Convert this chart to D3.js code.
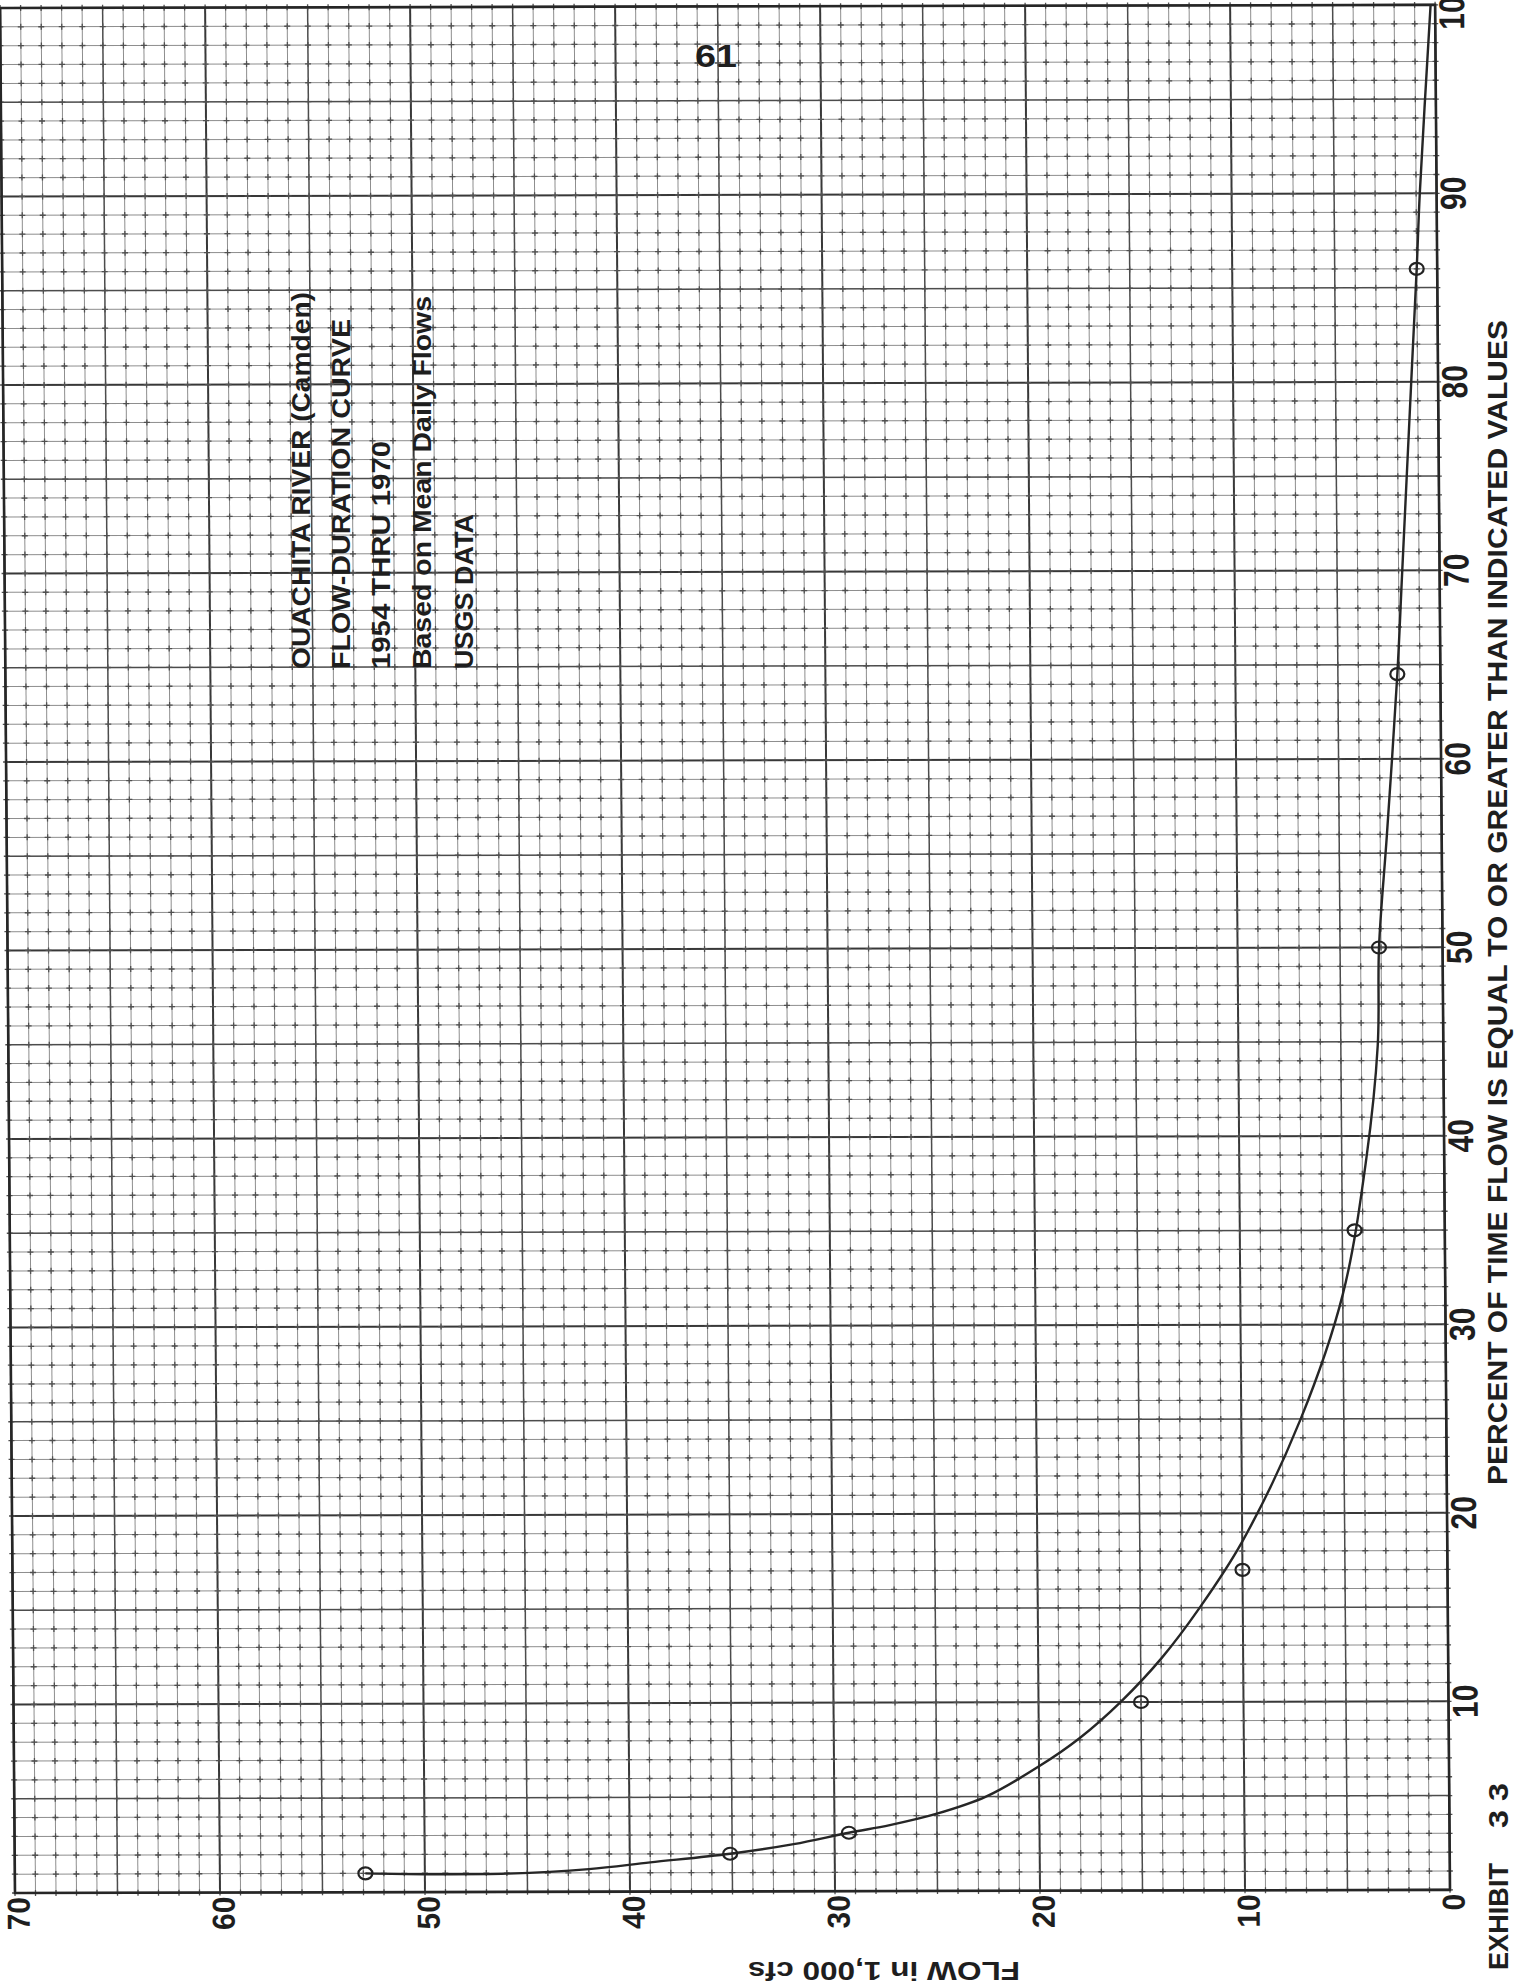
<!DOCTYPE html>
<html>
<head>
<meta charset="utf-8">
<script src="https://cdn.jsdelivr.net/npm/d3@7"></script>
<style>
body { margin: 0; background: #fff; overflow: hidden; }
svg { display: block; }
text { font-family: "Liberation Sans", Arial, Helvetica, sans-serif; font-weight: bold; fill: #1e1e1e; }
</style>
</head>
<body>
<div id="chart"></div>
<script>
// flow axis (1,000 cfs) runs right to left, percent of time runs bottom to top
var flowTicks = [70, 60, 50, 40, 30, 20, 10, 0];
var percentTicks = [10, 20, 30, 40, 50, 60, 70, 80, 90, 100];

// plotted observations
var pointFlow    = [52.9, 35.1, 29.3, 15.0, 10.0, 4.4, 3.1, 2.1, 1.0];
var pointPercent = [1.0, 2.0, 3.1, 10.0, 17.0, 35.0, 50.0, 64.5, 86.0];

// hand drawn duration curve, read along its length
var curveFlow    = [52.9, 50.0, 46.0, 42.0, 39.0, 35.1, 32.0, 29.3, 27.3, 25.0, 22.6, 20.0, 18.0, 16.0, 14.0, 12.1, 10.0, 7.1, 5.0, 3.8, 3.2, 3.1, 2.67, 2.1, 1.82, 1.31, 1.0, 0.82, 0.22];
var curvePercent = [1.0, 0.95, 0.97, 1.2, 1.55, 2.0, 2.5, 3.1, 3.5, 4.1, 5.0, 6.6, 8.1, 10.0, 12.3, 15.0, 18.5, 25.0, 31.6, 38.8, 44.8, 50.0, 56.0, 64.5, 70.0, 80.0, 86.0, 90.0, 100.0];

var titleLines = ["OUACHITA RIVER (Camden)", "FLOW-DURATION CURVE", "1954 THRU 1970", "Based on Mean Daily Flows", "USGS DATA"];

(function () {
    var w = 1514, h = 1986;

    var svg = d3.select("#chart").append("svg")
        .attr("width", w)
        .attr("height", h);

    svg.append("rect").attr("width", w).attr("height", h).attr("fill", "#fff");

    var x = d3.scaleLinear().domain([70, 0]).range([15, 1450]);
    var y = d3.scaleLinear().domain([0, 100]).range([1893, 8]);

    // the scanned sheet sits a little askew
    var skewX = 0.0079, skewY = -0.0022;
    var plot = svg.append("g")
        .attr("transform", "matrix(1," + skewY + "," + skewX + ",1," + (-skewX * y(0)) + "," + (-skewY * x(70)) + ")");

    var flowLines = d3.range(0, 71),
        pctLines = d3.range(0, 101);

    function weight(v) { return v % 10 === 0 ? 2 : (v % 5 === 0 ? 1.5 : 1); }
    function tone(v) { return v % 10 === 0 ? "#383838" : (v % 5 === 0 ? "#4c4c4c" : "#8e8e8e"); }

    plot.selectAll(".vline")
        .data(flowLines)
        .enter().append("line")
        .attr("x1", function (d) { return x(d); })
        .attr("x2", function (d) { return x(d); })
        .attr("y1", y(0))
        .attr("y2", y(100))
        .attr("stroke", tone)
        .attr("stroke-width", weight);

    plot.selectAll(".hline")
        .data(pctLines)
        .enter().append("line")
        .attr("x1", x(70))
        .attr("x2", x(0))
        .attr("y1", function (d) { return y(d); })
        .attr("y2", function (d) { return y(d); })
        .attr("stroke", tone)
        .attr("stroke-width", weight);

    // little printed crosses where the fine lines meet
    var cross = d3.path();
    flowLines.forEach(function (f) {
        pctLines.forEach(function (p) {
            cross.moveTo(x(f) - 3, y(p)); cross.lineTo(x(f) + 3, y(p));
            cross.moveTo(x(f), y(p) - 3); cross.lineTo(x(f), y(p) + 3);
        });
    });
    plot.append("path")
        .attr("d", cross.toString())
        .attr("fill", "none")
        .attr("stroke", "#505050")
        .attr("stroke-width", 1.3);

    plot.append("rect")
        .attr("x", x(70))
        .attr("y", y(100))
        .attr("width", x(0) - x(70))
        .attr("height", y(0) - y(100))
        .attr("fill", "none")
        .attr("stroke", "#262626")
        .attr("stroke-width", 2.6);

    var line = d3.line()
        .x(function (d) { return x(d[0]); })
        .y(function (d) { return y(d[1]); })
        .curve(d3.curveCatmullRom.alpha(0.5));

    plot.append("path")
        .datum(d3.zip(curveFlow, curvePercent))
        .attr("d", line)
        .attr("fill", "none")
        .attr("stroke", "#262626")
        .attr("stroke-width", 2.4);

    plot.selectAll(".obs")
        .data(d3.zip(pointFlow, pointPercent))
        .enter().append("ellipse")
        .attr("cx", function (d) { return x(d[0]); })
        .attr("cy", function (d) { return y(d[1]); })
        .attr("rx", 7)
        .attr("ry", 6)
        .attr("fill", "none")
        .attr("stroke", "#222")
        .attr("stroke-width", 2.2);

    // axis numbers, turned like the sheet
    plot.selectAll(".flow_label")
        .data(flowTicks)
        .enter().append("text")
        .text(function (d) { return d; })
        .attr("text-anchor", "end")
        .attr("font-size", 30)
        .attr("transform", function (d) {
            return "translate(" + (x(d) + 14.5) + "," + (y(0) + 4) + ") rotate(-90) scale(1,1.06)";
        });

    plot.selectAll(".pct_label")
        .data(percentTicks)
        .enter().append("text")
        .text(function (d) { return d; })
        .attr("text-anchor", "middle")
        .attr("font-size", 30)
        .attr("transform", function (d) {
            return "translate(" + (x(0) + 29) + "," + y(d) + ") rotate(-90) scale(1,1.2)";
        });

    function turned(txt, tx, ty, size, len, angle, anchor) {
        return svg.append("text")
            .text(txt)
            .attr("font-size", size)
            .attr("text-anchor", anchor || "start")
            .attr("textLength", len)
            .attr("lengthAdjust", "spacingAndGlyphs")
            .attr("transform", "translate(" + tx + "," + ty + ") rotate(" + angle + ")");
    }

    turned("PERCENT OF TIME FLOW IS EQUAL TO OR GREATER THAN INDICATED VALUES", 1507, 1485, 28, 1165, -90);
    turned("EXHIBIT", 1508, 1970, 28, 107, -90);
    turned("3 3", 1508, 1828, 28, 45, -90);
    turned("FLOW in 1,000 cfs", 884, 1962, 25, 272, 180, "middle");
    turned("61", 695, 67, 32, 42, 0);

    // title block, one column per line
    var titleX = [310, 350, 390, 431, 473],
        titleLen = [377, 350, 228, 373, 155];
    titleLines.forEach(function (t, i) {
        turned(t, titleX[i], 669, 25, titleLen[i], -90);
    });
})();
</script>
</body>
</html>
